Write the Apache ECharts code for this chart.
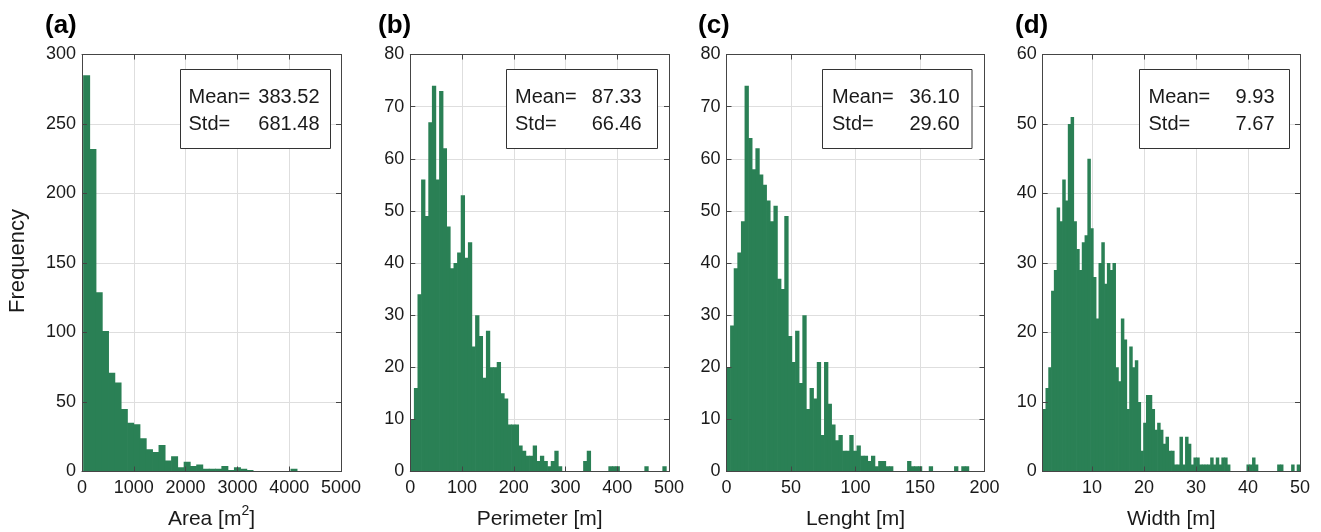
<!DOCTYPE html>
<html><head><meta charset="utf-8">
<script src="https://cdn.jsdelivr.net/npm/echarts@6/dist/echarts.min.js"></script>
<style>html,body{margin:0;padding:0;background:#fff}#c{width:1321px;height:532px}</style>
</head><body><div id="c"></div>
<script>
// ---------- DATA ----------
const panelLetters = ['(a)', '(b)', '(c)', '(d)'];
const xTitles = ['Area [m{s|2}]', 'Perimeter [m]', 'Lenght [m]', 'Width [m]'];
const yTitle = 'Frequency';
const statLabels = ['Mean=', 'Std='];
const meanValues = ['383.52', '87.33', '36.10', '9.93'];
const stdValues = ['681.48', '66.46', '29.60', '7.67'];

// histogram bins: first edge, bin width, counts
const areaBinStart = 22, areaBinWidth = 121.3;
const areaCounts = [285,232,129,101,71,64,45,35,34,24,16,14,19,8,11,3,7,4,5,2,2,2,4,1,3,2,1,0,0,0,0,0,0,2];
const perimeterBinStart = 0, perimeterBinWidth = 6.96;
const perimeterCounts = [10,16,34,56,49,67,74,56,73,62,47,39,40,42,53,41,44,24,30,26,18,27,20,20,21,15,14,9,9,9,5,4,3,3,5,2,3,2,1,2,4,1,0,0,0,0,0,0,2,4,0,0,0,0,0,1,1,1,0,0,0,0,0,0,0,1,0,0,0,0,1];
const lengthBinStart = 0, lengthBinWidth = 2.8;
const lengthCounts = [20,28,39,42,48,74,64,58,62,57,55,52,48,51,37,35,49,26,21,27,17,30,12,16,14,21,7,21,13,9,6,7,4,4,7,4,5,3,3,2,3,1,2,2,1,1,0,0,0,0,2,1,1,1,0,0,1,0,0,0,0,0,0,1,0,1,1];
const widthBinStart = 0.5, widthBinWidth = 0.537;
const widthCounts = [9,12,15,26,29,38,36,42,39,50,51,36,32,29,33,34,45,35,28,22,30,33,27,30,29,30,15,13,22,19,9,18,15,16,10,3,7,11,11,9,6,7,6,4,5,3,3,1,1,5,1,5,4,1,2,2,1,1,1,1,2,1,2,1,2,2,1,0,0,0,0,0,0,1,1,2,1,0,0,0,0,0,0,0,1,1,0,0,0,1,0,1];

// axis ranges and tick labels
const areaXTicks = [0,1000,2000,3000,4000,5000];
const perimeterXTicks = [0,100,200,300,400,500];
const lengthXTicks = [0,50,100,150,200];
const widthXTicks = [10,20,30,40,50];
const areaYTicks = [0,50,100,150,200,250,300];
const perimeterYTicks = [0,10,20,30,40,50,60,70,80];
const lengthYTicks = [0,10,20,30,40,50,60,70,80];
const widthYTicks = [0,10,20,30,40,50,60];
const xRanges = [[0,5000],[0,500],[0,200],[0.5,50]];

// ---------- STYLE / LAYOUT ----------
const GREEN = '#2a8055';
const AXIS = '#454545';
const GRIDC = '#dedede';
const TXT = '#1a1a1a';
const FONT = '"Liberation Sans", Arial, Helvetica, sans-serif';
const TOP = 54.5, HEIGHT = 417;
const layout = [
  {left: 82, width: 259, box: [180.5, 330.5, 188.5, 319.5], letterX: 45},
  {left: 410.3, width: 258.7, box: [506.5, 657.5, 515, 641.7], letterX: 378},
  {left: 726.5, width: 258, box: [822.5, 972, 832, 959.5], letterX: 698},
  {left: 1042.7, width: 257.3, box: [1139.5, 1289.5, 1148.5, 1274.5], letterX: 1015}
];

const bins = [
  {start: areaBinStart, w: areaBinWidth, counts: areaCounts},
  {start: perimeterBinStart, w: perimeterBinWidth, counts: perimeterCounts},
  {start: lengthBinStart, w: lengthBinWidth, counts: lengthCounts},
  {start: widthBinStart, w: widthBinWidth, counts: widthCounts}
];
const xTicks = [areaXTicks, perimeterXTicks, lengthXTicks, widthXTicks];
const yTicks = [areaYTicks, perimeterYTicks, lengthYTicks, widthYTicks];

const grids = [], xAxes = [], yAxes = [], series = [], graphics = [];
const plain = v => String(v);

layout.forEach((L, i) => {
  grids.push({left: L.left, top: TOP, width: L.width, height: HEIGHT, containLabel: false});
  const xt = xTicks[i], yt = yTicks[i];
  const xmin = xRanges[i][0], xmax = xRanges[i][1];
  const xint = xt[1] - xt[0];
  const ymax = yt[yt.length - 1], yint = yt[1] - yt[0];
  const tickStyle = {show: true, inside: true, length: 5, lineStyle: {color: AXIS, width: 1}};
  xAxes.push({
    type: 'value', gridIndex: i, position: 'bottom', min: xmin, max: xmax,
    interval: i === 3 ? undefined : xint, z: 3,
    axisLine: {show: true, onZero: false, lineStyle: {color: AXIS, width: 1}},
    axisTick: Object.assign({customValues: xt}, tickStyle),
    axisLabel: {customValues: xt, formatter: plain, color: TXT, fontSize: 18, fontFamily: FONT, margin: 8, showMinLabel: true, showMaxLabel: true},
    splitLine: {show: false}
  });
  xAxes.push({
    type: 'value', gridIndex: i, position: 'top', min: xmin, max: xmax,
    interval: i === 3 ? undefined : xint, z: 0,
    axisLine: {show: true, onZero: false, lineStyle: {color: AXIS, width: 1}},
    axisTick: Object.assign({customValues: xt}, tickStyle),
    axisLabel: {show: false, customValues: xt},
    splitLine: {show: true, lineStyle: {color: GRIDC, width: 1}}
  });
  yAxes.push({
    type: 'value', gridIndex: i, position: 'left', min: 0, max: ymax, interval: yint, z: 3,
    axisLine: {show: true, onZero: false, lineStyle: {color: AXIS, width: 1}},
    axisTick: tickStyle,
    axisLabel: {formatter: plain, color: TXT, fontSize: 18, fontFamily: FONT, margin: 6},
    splitLine: {show: false}
  });
  yAxes.push({
    type: 'value', gridIndex: i, position: 'right', min: 0, max: ymax, interval: yint, z: 0,
    axisLine: {show: true, onZero: false, lineStyle: {color: AXIS, width: 1}},
    axisTick: tickStyle,
    axisLabel: {show: false},
    splitLine: {show: true, lineStyle: {color: GRIDC, width: 1}}
  });
  const B = bins[i];
  series.push({
    type: 'custom', xAxisIndex: 2 * i, yAxisIndex: 2 * i, clip: true, z: 2, silent: true,
    data: B.counts.map((c, k) => [B.start + k * B.w, B.start + (k + 1) * B.w, c]),
    encode: {x: [0, 1], y: 2},
    renderItem: (params, api) => {
      const v = api.value(2);
      if (!v) return null;
      const p0 = api.coord([api.value(0), v]);
      const p1 = api.coord([api.value(1), 0]);
      return {type: 'rect', shape: {x: p0[0], y: p0[1], width: p1[0] - p0[0] + 0.7, height: p1[1] - p0[1]},
              style: {fill: GREEN}};
    }
  });
  graphics.push({type: 'text', x: L.letterX, y: 26, z: 10,
    style: {text: panelLetters[i], font: 'bold 26px ' + FONT, fill: '#000', verticalAlign: 'middle', align: 'left'}});
  graphics.push({type: 'text', x: L.left + L.width / 2, y: 519, z: 10,
    style: {text: xTitles[i], font: '21px ' + FONT, fill: TXT, align: 'center', verticalAlign: 'middle',
            lineHeight: 30, rich: {s: {fontSize: 14, fontFamily: FONT, verticalAlign: 'top', lineHeight: 14, fill: TXT}}}});
  const bx = L.box;
  graphics.push({type: 'rect', z: 10, shape: {x: bx[0], y: 69.5, width: bx[1] - bx[0], height: 79},
    style: {fill: '#fff', stroke: '#333', lineWidth: 1}});
  graphics.push({type: 'text', z: 11, x: bx[2], y: 97.5,
    style: {text: statLabels[0], font: '20px ' + FONT, fill: TXT, align: 'left', verticalAlign: 'middle'}});
  graphics.push({type: 'text', z: 11, x: bx[2], y: 124,
    style: {text: statLabels[1], font: '20px ' + FONT, fill: TXT, align: 'left', verticalAlign: 'middle'}});
  graphics.push({type: 'text', z: 11, x: bx[3], y: 97.5,
    style: {text: meanValues[i], font: '20px ' + FONT, fill: TXT, align: 'right', verticalAlign: 'middle'}});
  graphics.push({type: 'text', z: 11, x: bx[3], y: 124,
    style: {text: stdValues[i], font: '20px ' + FONT, fill: TXT, align: 'right', verticalAlign: 'middle'}});
});

graphics.push({type: 'text', x: 18, y: 261, rotation: Math.PI / 2, z: 10,
  style: {text: yTitle, font: '22px ' + FONT, fill: TXT, align: 'center', verticalAlign: 'middle'}});

const chart = echarts.init(document.getElementById('c'), null, {renderer: 'canvas'});
chart.setOption({
  animation: false,
  backgroundColor: '#fff',
  grid: grids, xAxis: xAxes, yAxis: yAxes, series: series, graphic: graphics
});
</script></body></html>
